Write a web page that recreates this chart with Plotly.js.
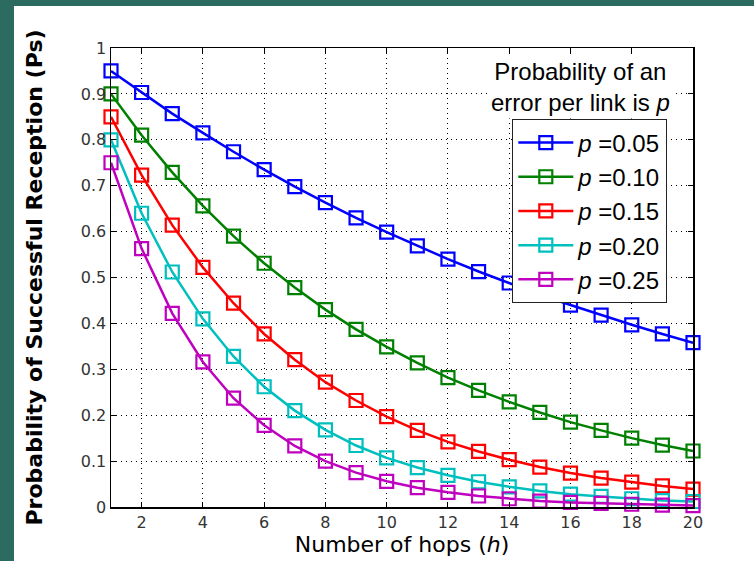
<!DOCTYPE html>
<html><head>
<script src="https://cdn.plot.ly/plotly-3.0.1.min.js"></script>
<style>
html,body{margin:0;padding:0;background:#2c6b60;width:754px;height:561px;overflow:hidden;}
#chart{position:absolute;left:14px;top:6px;width:740px;height:555px;background:#fff;}
</style>
</head><body>
<div id="chart"></div>
<script>
const hops = [1,2,3,4,5,6,7,8,9,10,11,12,13,14,15,16,17,18,19,20];
const seriesNames = ["<i>p</i> =0.05","<i>p</i> =0.10","<i>p</i> =0.15","<i>p</i> =0.20","<i>p</i> =0.25"];
const p05 = [0.95,0.903,0.857,0.815,0.774,0.735,0.698,0.663,0.630,0.599,0.569,0.540,0.513,0.488,0.463,0.440,0.418,0.397,0.377,0.358];
const p10 = [0.90,0.81,0.729,0.656,0.590,0.531,0.478,0.430,0.387,0.349,0.314,0.282,0.254,0.229,0.206,0.185,0.167,0.150,0.135,0.122];
const p15 = [0.85,0.723,0.614,0.522,0.444,0.377,0.321,0.272,0.232,0.197,0.167,0.142,0.121,0.103,0.087,0.074,0.063,0.054,0.046,0.039];
const p20 = [0.80,0.64,0.512,0.410,0.328,0.262,0.210,0.168,0.134,0.107,0.086,0.069,0.055,0.044,0.035,0.028,0.023,0.018,0.014,0.012];
const p25 = [0.75,0.563,0.422,0.316,0.237,0.178,0.133,0.100,0.075,0.056,0.042,0.032,0.024,0.018,0.013,0.010,0.008,0.006,0.004,0.003];
const yTickVals = [0,0.1,0.2,0.3,0.4,0.5,0.6,0.7,0.8,0.9,1];
const yTickText = ["0","0.1","0.2","0.3","0.4","0.5","0.6","0.7","0.8","0.9","1"];
const xTickVals = [2,4,6,8,10,12,14,16,18,20];

const colors = ["#0000ff","#008000","#ff0000","#00bfbf","#bf00bf"];
const allSeries = [p05,p10,p15,p20,p25];
const traces = allSeries.map((ys,i)=>({
  x: hops, y: ys, name: seriesNames[i], type:'scatter', mode:'lines+markers',
  cliponaxis:false,
  line:{color:colors[i], width:2.5},
  marker:{symbol:'square-open', size:13, color:colors[i], line:{width:2.2, color:colors[i]}}
}));

const axisCommon = {
  showline:true, linecolor:'#000', linewidth:1.5, mirror:'ticks',
  ticks:'inside', ticklen:5, tickcolor:'#000',
  showgrid:true, gridcolor:'#000', griddash:'1px,4px', gridwidth:1,
  zeroline:false,
  tickfont:{family:'DejaVu Sans', size:16, color:'#333'}
};

const layout = {
  width:740, height:555,
  paper_bgcolor:'#fff', plot_bgcolor:'#fff',
  margin:{l:97, r:61, t:42, b:54},
  showlegend:true,
  legend:{x:0.689, y:0.845, xanchor:'left', yanchor:'top',
    bgcolor:'#fff', bordercolor:'#222', borderwidth:1.3, itemwidth:55,
    font:{family:'Arial', size:24, color:'#000'}, tracegroupgap:0},
  xaxis:Object.assign({}, axisCommon, {range:[1,20], tickvals:xTickVals,
    title:{text:'Number of hops (<i>h</i>)', font:{family:'DejaVu Sans', size:22, color:'#000'}, standoff:4}}),
  yaxis:Object.assign({}, axisCommon, {range:[0,1], tickvals:yTickVals, ticktext:yTickText,
    title:{text:'Probability of Successful Reception (Ps)', font:{family:'DejaVu Sans', size:22, color:'#000', weight:'bold'}, standoff:32}}),
  annotations:[{xref:'paper', yref:'paper', x:0.806, y:0.985, xanchor:'center', yanchor:'top',
    text:'Probability of an<br>error per link is <i>p</i>', showarrow:false, align:'center',
    bgcolor:'#fff', borderpad:2,
    font:{family:'Arial', size:24, color:'#000'}}]
};
Plotly.newPlot('chart', traces, layout, {displayModeBar:false, staticPlot:true});
</script>
</body></html>
